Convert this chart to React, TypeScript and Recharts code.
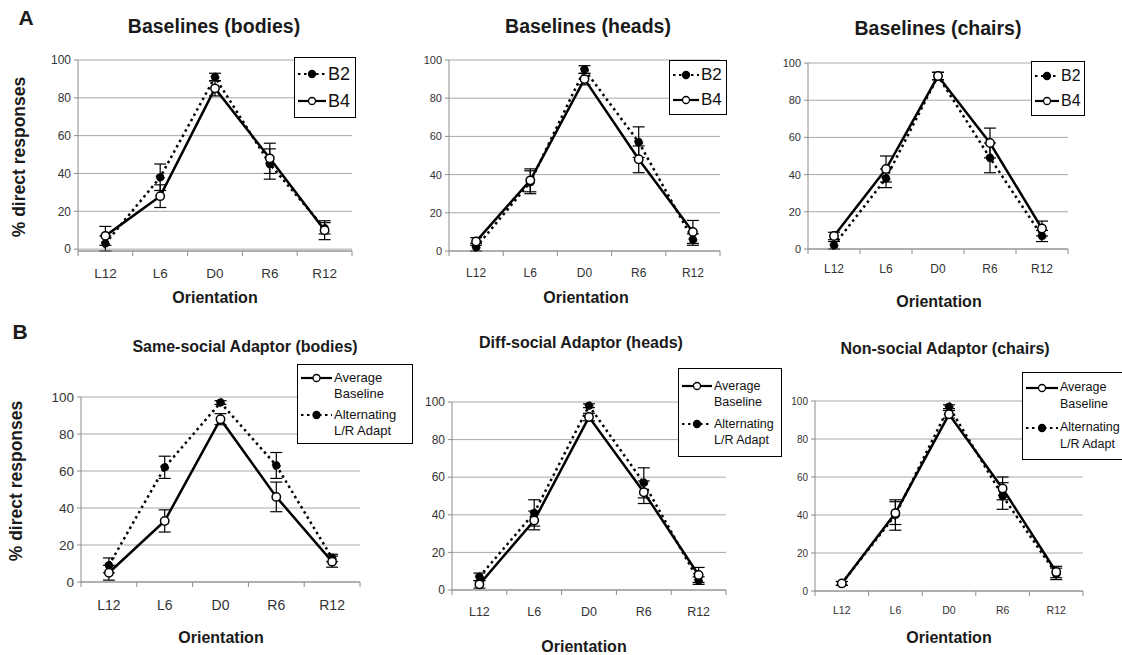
import React from 'react'
import { LineChart, Line, XAxis, YAxis, CartesianGrid, ErrorBar } from 'recharts'

const orientations = ['L12', 'L6', 'D0', 'R6', 'R12']
const yTicks = [0, 20, 40, 60, 80, 100]

// A: baselines (B2 dotted/filled, B4 solid/open)
const bodiesB2 = [3, 38, 91, 45, 11]
const bodiesB2Err = [4, 7, 2, 8, 3]
const bodiesB4 = [7, 28, 85, 48, 10]
const bodiesB4Err = [5, 6, 4, 8, 5]

const headsB2 = [2, 36, 95, 57, 6]
const headsB2Err = [2, 6, 2, 8, 3]
const headsB4 = [5, 37, 90, 48, 10]
const headsB4Err = [2, 6, 3, 7, 6]

const chairsB2 = [2, 38, 93, 49, 7]
const chairsB2Err = [2, 5, 2, 8, 3]
const chairsB4 = [7, 43, 93, 57, 11]
const chairsB4Err = [2, 7, 2, 8, 4]

// B: adaptors (average baseline solid/open, alternating L/R dotted/filled)
const bodiesAvg = [5, 33, 88, 46, 11]
const bodiesAvgErr = [4, 6, 3, 8, 3]
const bodiesAlt = [9, 62, 97, 63, 13]
const bodiesAltErr = [4, 6, 1, 7, 2]

const headsAvg = [3, 37, 92, 52, 8]
const headsAvgErr = [2, 5, 2, 6, 4]
const headsAlt = [7, 41, 98, 57, 5]
const headsAltErr = [2, 7, 1, 8, 2]

const chairsAvg = [4, 41, 93, 54, 10]
const chairsAvgErr = [1, 6, 2, 6, 3]
const chairsAlt = [4, 40, 97, 50, 9]
const chairsAltErr = [1, 8, 1, 7, 3]

const rowsOf = (a: number[], aErr: number[], b: number[], bErr: number[]) =>
  orientations.map((o, i) => ({ o, a: a[i], aErr: aErr[i], b: b[i], bErr: bErr[i] }))

const FONT = '"Liberation Sans", Arial, sans-serif'

type Rect = { l: number; t: number; r: number; b: number }
type Series = { key: string; errKey: string; dotted: boolean }

const solidStyle = { stroke: '#000', strokeWidth: 2.5 }
const dottedStyle = { stroke: '#000', strokeWidth: 2.5, strokeDasharray: '2.5 3.5' }
const openDot = { r: 4.2, fill: '#fff', stroke: '#000', strokeWidth: 1.5 }
const filledDot = { r: 4, fill: '#000', stroke: '#000', strokeWidth: 1 }

function Panel({ plot, rows, series, yFont, xFont, xGap }: { plot: Rect; rows: any[]; series: Series[]; yFont: number; xFont: number; xGap: number }) {
  const padL = 45
  const padR = 14
  const padT = 10
  const padB = 40
  const w = plot.r - plot.l + padL + padR
  const h = plot.b - plot.t + padT + padB
  const bw = (plot.r - plot.l) / orientations.length

  const catTick = (p: any) => {
    const { x, y, payload, index } = p
    return (
      <g>
        <line x1={x - bw / 2} x2={x - bw / 2} y1={y} y2={y + 5} stroke="#8c8c8c" />
        {index === orientations.length - 1 && <line x1={x + bw / 2} x2={x + bw / 2} y1={y} y2={y + 5} stroke="#8c8c8c" />}
        <text x={x} y={y + xGap + xFont * 0.35} textAnchor="middle" fontSize={xFont} fill="#333" fontFamily={FONT}>
          {payload.value}
        </text>
      </g>
    )
  }

  return (
    <div style={{ position: 'absolute', left: plot.l - padL, top: plot.t - padT }}>
      <LineChart width={w} height={h} data={rows} margin={{ top: padT, right: padR, bottom: padB - 30, left: padL - 40 }}>
        <CartesianGrid vertical={false} stroke="#a8a8a8" />
        <XAxis dataKey="o" scale="band" height={30} tickSize={0} tickMargin={0} tickLine={false} interval={0}
          axisLine={{ stroke: '#8c8c8c' }} tick={catTick} />
        <YAxis width={40} domain={[0, 100]} ticks={yTicks} tickSize={4} tickMargin={3} interval={0}
          axisLine={{ stroke: '#8c8c8c' }} tickLine={{ stroke: '#8c8c8c' }}
          tick={{ fontSize: yFont, fill: '#333', fontFamily: FONT }} />
        <YAxis yAxisId="frame" orientation="right" width={0} tick={false} tickLine={false} axisLine={{ stroke: '#a8a8a8' }} />
        {[...series].sort((s1, s2) => Number(s2.dotted) - Number(s1.dotted)).map((s) => (
          <Line key={s.key} dataKey={s.key} type="linear" isAnimationActive={false}
            {...(s.dotted ? dottedStyle : solidStyle)} dot={s.dotted ? filledDot : openDot} activeDot={false}>
            <ErrorBar dataKey={s.errKey} width={6} stroke="#000" strokeWidth={1.2} direction="y" />
          </Line>
        ))}
      </LineChart>
    </div>
  )
}

function Sample({ dotted, w }: { dotted: boolean; w: number }) {
  return (
    <svg width={w} height={12} style={{ flex: 'none' }}>
      <line x1={1} x2={w - 1} y1={6} y2={6} stroke="#000" strokeWidth={2.2} strokeDasharray={dotted ? '2.5 3.5' : undefined} />
      <circle cx={w / 2} cy={6} r={3.5} fill={dotted ? '#000' : '#fff'} stroke="#000" strokeWidth={1.3} />
    </svg>
  )
}

type Entry = { lines: string[]; dotted: boolean }

function LegendBox({ left, top, width, height, entries, fontSize, lineHeight, gap, sample }: { left: number; top: number; width: number; height: number; entries: Entry[]; fontSize: number; lineHeight: number; gap: number; sample: number }) {
  return (
    <div style={{ position: 'absolute', left, top, width, height, boxSizing: 'border-box', border: '1.5px solid #000', background: '#fff',
      display: 'flex', flexDirection: 'column', justifyContent: 'center', gap, padding: '0 2px', fontFamily: FONT, fontSize, lineHeight: `${lineHeight}px`, color: '#111' }}>
      {entries.map((e) => (
        <div key={e.lines.join(' ')} style={{ display: 'flex', alignItems: 'flex-start' }}>
          <div style={{ height: lineHeight, display: 'flex', alignItems: 'center' }}><Sample dotted={e.dotted} w={sample} /></div>
          <div style={{ marginLeft: 1, whiteSpace: 'nowrap' }}>{e.lines.map((t) => <div key={t}>{t}</div>)}</div>
        </div>
      ))}
    </div>
  )
}

function Txt({ x, y, size, children, rotate, weight = 700 }: { x: number; y: number; size: number; children: React.ReactNode; rotate?: boolean; weight?: number }) {
  return (
    <div style={{ position: 'absolute', left: x, top: y, transform: `translate(-50%, -50%)${rotate ? ' rotate(-90deg)' : ''}`,
      whiteSpace: 'nowrap', fontFamily: FONT, fontWeight: weight, fontSize: size, color: '#1a1a1a', lineHeight: 1 }}>
      {children}
    </div>
  )
}

const seriesA: Series[] = [
  { key: 'a', errKey: 'aErr', dotted: true },
  { key: 'b', errKey: 'bErr', dotted: false },
]
const seriesB: Series[] = [
  { key: 'a', errKey: 'aErr', dotted: false },
  { key: 'b', errKey: 'bErr', dotted: true },
]
const legendA: Entry[] = [
  { lines: ['B2'], dotted: true },
  { lines: ['B4'], dotted: false },
]
const legendB: Entry[] = [
  { lines: ['Average', 'Baseline'], dotted: false },
  { lines: ['Alternating', 'L/R Adapt'], dotted: true },
]

export default function App() {
  return (
    <div style={{ position: 'absolute', left: 0, top: 0, width: 1122, height: 655, overflow: 'hidden', background: '#fff' }}>
      <Txt x={26} y={17} size={21}>A</Txt>
      <Txt x={20} y={331} size={21}>B</Txt>

      <Txt x={214} y={27} size={19.5}>Baselines (bodies)</Txt>
      <Txt x={588} y={27} size={19.5}>Baselines (heads)</Txt>
      <Txt x={938} y={29} size={19.5}>Baselines (chairs)</Txt>
      <Txt x={245} y={347} size={16}>Same-social Adaptor (bodies)</Txt>
      <Txt x={581} y={343} size={16}>Diff-social Adaptor (heads)</Txt>
      <Txt x={945} y={349} size={16}>Non-social Adaptor (chairs)</Txt>

      <Txt x={20} y={157} size={17.5} rotate>% direct responses</Txt>
      <Txt x={17} y={481} size={17.5} rotate>% direct responses</Txt>

      <Txt x={215} y={298} size={16}>Orientation</Txt>
      <Txt x={586} y={298} size={16}>Orientation</Txt>
      <Txt x={939} y={302} size={16}>Orientation</Txt>
      <Txt x={221} y={638} size={16}>Orientation</Txt>
      <Txt x={584} y={647} size={16}>Orientation</Txt>
      <Txt x={949} y={638} size={16}>Orientation</Txt>

      <Panel plot={{ l: 78, r: 352, t: 60, b: 251 }} rows={rowsOf(bodiesB2, bodiesB2Err, bodiesB4, bodiesB4Err)} series={seriesA} yFont={12} xFont={13.5} xGap={22} />
      <Panel plot={{ l: 449, r: 720, t: 60, b: 251 }} rows={rowsOf(headsB2, headsB2Err, headsB4, headsB4Err)} series={seriesA} yFont={11} xFont={12} xGap={22} />
      <Panel plot={{ l: 808, r: 1068, t: 63, b: 249 }} rows={rowsOf(chairsB2, chairsB2Err, chairsB4, chairsB4Err)} series={seriesA} yFont={11} xFont={12} xGap={20} />
      <Panel plot={{ l: 81, r: 360, t: 397, b: 582 }} rows={rowsOf(bodiesAvg, bodiesAvgErr, bodiesAlt, bodiesAltErr)} series={seriesB} yFont={13.5} xFont={14} xGap={23} />
      <Panel plot={{ l: 452, r: 726, t: 402, b: 590 }} rows={rowsOf(headsAvg, headsAvgErr, headsAlt, headsAltErr)} series={seriesB} yFont={12} xFont={12.5} xGap={22} />
      <Panel plot={{ l: 815, r: 1083, t: 401, b: 591 }} rows={rowsOf(chairsAvg, chairsAvgErr, chairsAlt, chairsAltErr)} series={seriesB} yFont={10} xFont={10.5} xGap={19} />

      <LegendBox left={294} top={57} width={62} height={61} entries={legendA} fontSize={18} lineHeight={24} gap={3} sample={30} />
      <LegendBox left={669} top={60} width={58} height={55} entries={legendA} fontSize={17} lineHeight={22} gap={3} sample={28} />
      <LegendBox left={1031} top={61} width={54} height={55} entries={legendA} fontSize={16} lineHeight={22} gap={3} sample={26} />
      <LegendBox left={297} top={364} width={116} height={80} entries={legendB} fontSize={13} lineHeight={16} gap={5} sample={33} />
      <LegendBox left={678} top={368} width={104} height={89} entries={legendB} fontSize={12.5} lineHeight={16} gap={6} sample={32} />
      <LegendBox left={1022} top={372} width={110} height={88} entries={legendB} fontSize={12.5} lineHeight={17} gap={6} sample={34} />
    </div>
  )
}
